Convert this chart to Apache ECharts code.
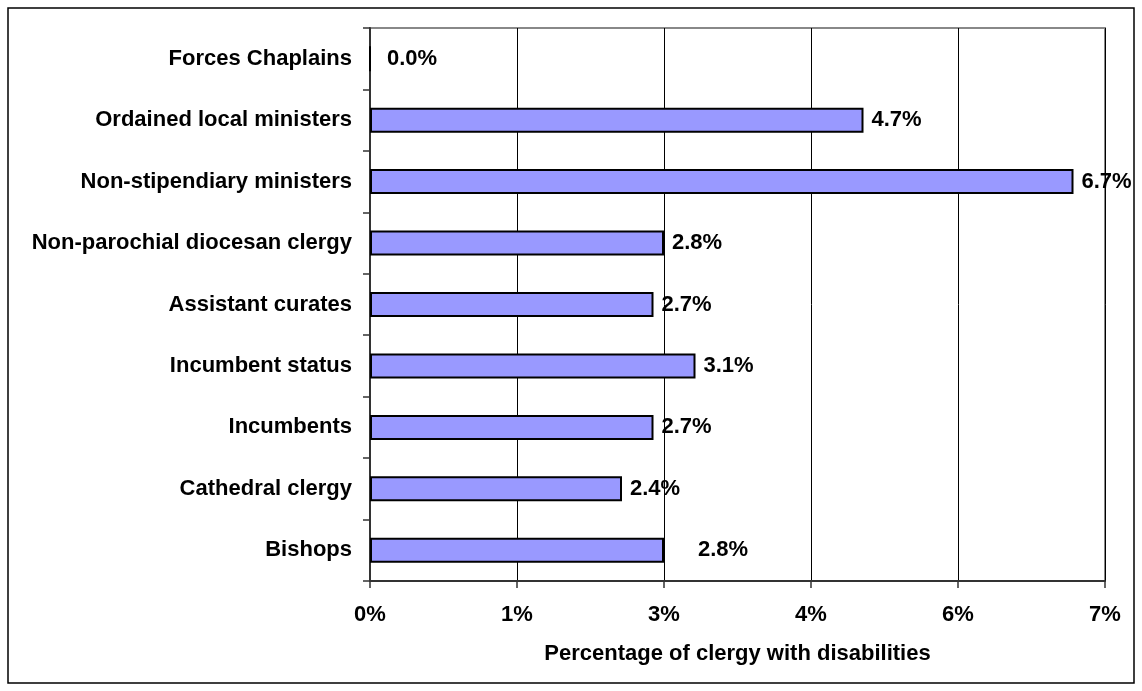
<!DOCTYPE html>
<html>
<head>
<meta charset="utf-8">
<script src="https://cdn.jsdelivr.net/npm/echarts@6/dist/echarts.min.js"></script>
<style>
html,body{margin:0;padding:0;background:#fff;}
#chart{width:1142px;height:691px;}
</style>
</head>
<body>
<div id="chart"></div>
<script>
// Categories from top to bottom
const categories = [
  "Forces Chaplains",
  "Ordained local ministers",
  "Non-stipendiary ministers",
  "Non-parochial diocesan clergy",
  "Assistant curates",
  "Incumbent status",
  "Incumbents",
  "Cathedral clergy",
  "Bishops"
];
// Percentage of clergy with disabilities
const values = [0.0, 4.7, 6.7, 2.8, 2.7, 3.1, 2.7, 2.4, 2.8];
const axisTitle = "Percentage of clergy with disabilities";
const xMin = 0, xMax = 7, xStep = 1.4;

const FONT = '"Liberation Sans", Arial, sans-serif';
const FS = 22;
const chart = echarts.init(document.getElementById('chart'), null, {renderer: 'canvas'});

// label position tweaks (presentation only)
const extraDistance = {"Forces Chaplains": 16, "Bishops": 34};

const seriesData = values.map((v, i) => {
  const item = {value: v};
  const d = extraDistance[categories[i]];
  if (d !== undefined) item.label = {distance: d};
  return item;
});

chart.setOption({
  animation: false,
  backgroundColor: '#fff',
  graphic: [{
    type: 'rect',
    shape: {x: 8, y: 8, width: 1126, height: 675},
    style: {fill: 'none', stroke: '#000', lineWidth: 1.5},
    silent: true
  }],
  grid: {
    left: 370, top: 28, right: 37, bottom: 110,
    show: true, borderColor: '#888', borderWidth: 2, backgroundColor: 'transparent'
  },
  xAxis: {
    type: 'value',
    min: xMin, max: xMax, interval: xStep,
    name: axisTitle,
    nameLocation: 'middle',
    nameGap: 62,
    nameTextStyle: {fontFamily: FONT, fontWeight: 'bold', fontSize: FS, color: '#000'},
    axisLine: {show: true, lineStyle: {color: '#333', width: 2}},
    axisTick: {show: true, length: 7, lineStyle: {color: '#333', width: 1.5}},
    axisLabel: {
      margin: 23,
      fontFamily: FONT, fontWeight: 'bold', fontSize: FS, color: '#000',
      formatter: v => Math.round(v) + '%'
    },
    splitLine: {show: true, lineStyle: {color: '#000', width: 1}}
  },
  yAxis: {
    type: 'category',
    data: categories,
    inverse: true,
    axisLine: {show: true, lineStyle: {color: '#333', width: 2}},
    axisTick: {show: true, length: 7, alignWithLabel: false, lineStyle: {color: '#333', width: 1.5}},
    axisLabel: {
      margin: 18,
      fontFamily: FONT, fontWeight: 'bold', fontSize: FS, color: '#000'
    },
    splitLine: {show: false}
  },
  series: [{
    type: 'bar',
    data: seriesData,
    barWidth: 25,
    itemStyle: {color: '#9999FF', borderColor: '#000', borderWidth: 2},
    label: {
      show: true,
      position: 'right',
      distance: 8,
      fontFamily: FONT, fontWeight: 'bold', fontSize: FS, color: '#000',
      formatter: p => p.value.toFixed(1) + '%'
    }
  }]
});
</script>
</body>
</html>
